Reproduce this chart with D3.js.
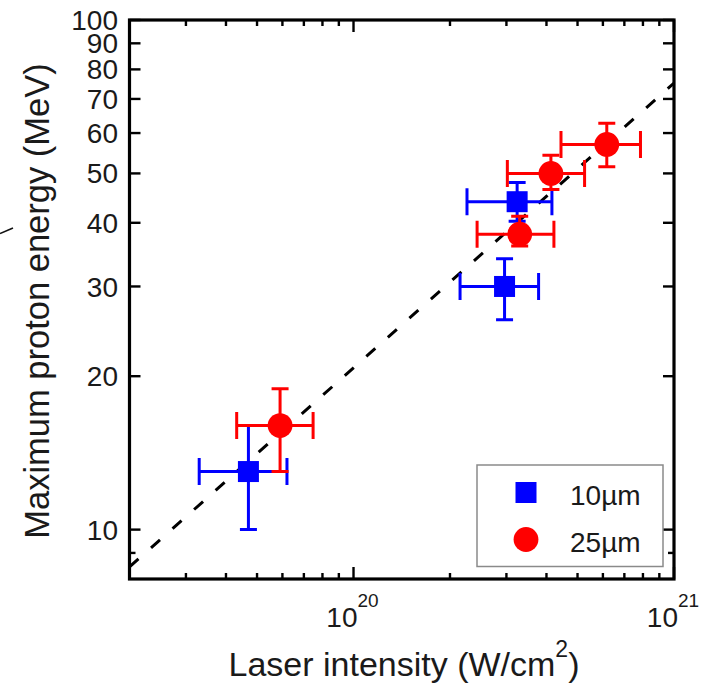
<!DOCTYPE html>
<html>
<head>
<meta charset="utf-8">
<script src="https://cdnjs.cloudflare.com/ajax/libs/d3/7.8.5/d3.min.js"></script>
<style>
  body { margin: 0; background: #fff; }
  svg text { font-family: Arial, "Liberation Sans", sans-serif; fill: #1a1a1a; }
</style>
</head>
<body>
<div id="chart"></div>
<script>
"use strict";

// 10um targets
var thinX   = [4.7e19, 2.96e20, 3.24e20];
var thinXlo = [3.3e19, 2.15e20, 2.26e20];
var thinXhi = [6.2e19, 3.78e20, 4.16e20];
var thinY   = [13, 30, 44];
var thinYlo = [10, 25.8, 40.3];
var thinYhi = [16, 34, 48];

// 25um targets
var thickX   = [5.9e19, 3.3e20, 4.13e20, 6.17e20];
var thickXlo = [4.32e19, 2.43e20, 3.02e20, 4.44e20];
var thickXhi = [7.48e19, 4.22e20, 5.26e20, 7.86e20];
var thickY   = [16, 38, 50, 57];
var thickYlo = [13, 36, 46.5, 51.5];
var thickYhi = [18.9, 41.2, 54.3, 62.7];

// scaling fit (dashed)
var fitX = [2e19, 1e21];
var fitY = [8.45, 75.2];

var legendLabels = ["10\u00b5m", "25\u00b5m"];
var xMajor = [1e20, 1e21];
var xMinor = [3e19, 4e19, 5e19, 6e19, 7e19, 8e19, 9e19,
              2e20, 3e20, 4e20, 5e20, 6e20, 7e20, 8e20, 9e20];
var yMajor = [10, 20, 30, 40, 50, 60, 70, 80, 90, 100];
var yMinor = [9];

var width = 715, height = 683;
var plotL = 129.5, plotR = 674, plotT = 20, plotB = 579;

var x = d3.scaleLog().domain([2e19, 1e21]).range([plotL, plotR]);
var y = d3.scaleLog().domain([8, 100]).range([plotB, plotT]);

var svg = d3.select("#chart").append("svg")
  .attr("width", width)
  .attr("height", height);

svg.append("defs").append("clipPath").attr("id", "plotClip")
  .append("rect")
    .attr("x", plotL).attr("y", plotT)
    .attr("width", plotR - plotL).attr("height", plotB - plotT);

// stray stroke at the left edge of the crop
svg.append("path")
  .attr("d", "M0,233.5L13,228")
  .attr("stroke", "#111").attr("stroke-width", 1.6).attr("fill", "none");

// fit line
svg.append("path")
  .datum(d3.zip(fitX, fitY))
  .attr("clip-path", "url(#plotClip)")
  .attr("d", d3.line().x(function(d) { return x(d[0]); }).y(function(d) { return y(d[1]); }))
  .attr("fill", "none")
  .attr("stroke", "#000")
  .attr("stroke-width", 3)
  .attr("stroke-dasharray", "12,16.8");

function drawSeries(xs, xlo, xhi, ys, ylo, yhi, color, shape) {
  var g = svg.append("g");
  var pts = xs.map(function(v, i) {
    return { x: v, xlo: xlo[i], xhi: xhi[i], y: ys[i], ylo: ylo[i], yhi: yhi[i] };
  });
  var bar = g.selectAll("g.pt").data(pts).enter().append("g")
    .attr("stroke", color).attr("stroke-width", 3).attr("fill", "none");

  // horizontal error + end caps
  bar.append("path").attr("d", function(d) {
    var cy = y(d.y), h = 13.5;
    return "M" + x(d.xlo) + "," + cy + "H" + x(d.xhi) +
      "M" + x(d.xlo) + "," + (cy - h) + "V" + (cy + h) +
      "M" + x(d.xhi) + "," + (cy - h) + "V" + (cy + h);
  });
  // vertical error + end caps
  bar.append("path").attr("d", function(d) {
    var cx = x(d.x), w = 8.5;
    return "M" + cx + "," + y(d.ylo) + "V" + y(d.yhi) +
      "M" + (cx - w) + "," + y(d.ylo) + "H" + (cx + w) +
      "M" + (cx - w) + "," + y(d.yhi) + "H" + (cx + w);
  });

  if (shape === "square") {
    g.selectAll("rect.m").data(pts).enter().append("rect")
      .attr("x", function(d) { return x(d.x) - 10.5; })
      .attr("y", function(d) { return y(d.y) - 10.5; })
      .attr("width", 21).attr("height", 21)
      .attr("fill", color);
  } else {
    g.selectAll("circle.m").data(pts).enter().append("circle")
      .attr("cx", function(d) { return x(d.x); })
      .attr("cy", function(d) { return y(d.y); })
      .attr("r", 12.4)
      .attr("fill", color);
  }
}

drawSeries(thinX, thinXlo, thinXhi, thinY, thinYlo, thinYhi, "#0000ff", "square");
drawSeries(thickX, thickXlo, thickXhi, thickY, thickYlo, thickYhi, "#ff0000", "circle");

// ticks on all four sides, pointing inward
var ticks = svg.append("g").attr("stroke", "#000").attr("stroke-width", 2.4);
function xTicks(vals, len) {
  vals.forEach(function(v) {
    ticks.append("line").attr("x1", x(v)).attr("x2", x(v)).attr("y1", plotB).attr("y2", plotB - len);
    ticks.append("line").attr("x1", x(v)).attr("x2", x(v)).attr("y1", plotT).attr("y2", plotT + len);
  });
}
function yTicks(vals, len) {
  vals.forEach(function(v) {
    ticks.append("line").attr("y1", y(v)).attr("y2", y(v)).attr("x1", plotL).attr("x2", plotL + len);
    ticks.append("line").attr("y1", y(v)).attr("y2", y(v)).attr("x1", plotR).attr("x2", plotR - len);
  });
}
xTicks(xMinor, 6);
xTicks(xMajor, 12);
yTicks(yMinor, 6);
yTicks(yMajor, 11);

// legend
var lg = svg.append("g");
lg.append("rect")
  .attr("x", 477).attr("y", 465).attr("width", 186).attr("height", 101.5)
  .attr("fill", "#fff").attr("stroke", "#8a8a8a").attr("stroke-width", 1.5);
lg.append("rect").attr("x", 515.5).attr("y", 482).attr("width", 21).attr("height", 21).attr("fill", "#0000ff");
lg.append("circle").attr("cx", 526).attr("cy", 539.5).attr("r", 12.4).attr("fill", "#ff0000");
lg.selectAll("text").data(legendLabels).enter().append("text")
  .attr("x", 570)
  .attr("y", function(d, i) { return 505 + i * 46.5; })
  .attr("font-size", 28)
  .text(function(d) { return d; });

// frame
svg.append("rect")
  .attr("x", plotL).attr("y", plotT)
  .attr("width", plotR - plotL).attr("height", plotB - plotT)
  .attr("fill", "none").attr("stroke", "#000").attr("stroke-width", 3.2);

// y tick labels (100 and 90 crowd each other, as in the source)
svg.selectAll("text.ylab").data(yMajor).enter().append("text")
  .attr("class", "ylab")
  .attr("x", 118)
  .attr("y", function(d) { return y(d); })
  .attr("dy", "0.36em")
  .attr("text-anchor", "end")
  .attr("font-size", 28)
  .text(function(d) { return d; });

// x tick labels, 10^n
var xl = svg.selectAll("text.xlab").data(xMajor).enter().append("text")
  .attr("class", "xlab")
  .attr("x", function(d) { return x(d) - 1; })
  .attr("y", 626.5)
  .attr("text-anchor", "middle")
  .attr("font-size", 28);
xl.append("tspan").text("10");
xl.append("tspan")
  .attr("font-size", 19).attr("dy", -20)
  .text(function(d) { return Math.round(Math.log10(d)); });

// axis titles
var xt = svg.append("text")
  .attr("x", 404).attr("y", 676)
  .attr("text-anchor", "middle")
  .attr("font-size", 34);
xt.append("tspan").text("Laser intensity (W/cm");
xt.append("tspan").attr("font-size", 23).attr("dy", -19).text("2");
xt.append("tspan").attr("dy", 19).text(")");

svg.append("text")
  .attr("transform", "translate(48.5,301) rotate(-90)")
  .attr("text-anchor", "middle")
  .attr("font-size", 34.5)
  .text("Maximum proton energy (MeV)");
</script>
</body>
</html>
